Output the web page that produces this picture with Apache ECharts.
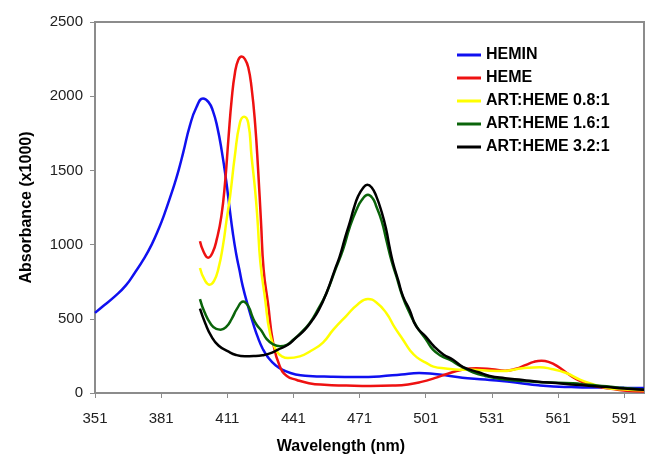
<!DOCTYPE html>
<html>
<head>
<meta charset="utf-8">
<script src="https://cdn.jsdelivr.net/npm/echarts@6/dist/echarts.min.js"></script>
<style>
html,body{margin:0;padding:0;background:#fff;}
#chart{width:646px;height:455px;}
</style>
</head>
<body>
<div id="chart"></div>
<script>
// Series names
var seriesNames = ['HEMIN', 'HEME', 'ART:HEME 0.8:1', 'ART:HEME 1.6:1', 'ART:HEME 3.2:1'];

// HEMIN
var heminWl = [351,355,360,365,369,373,376.7,380,382.7,385,387.2,389,391,394,397,400,402.5,404.5,406.5,408.5,410.5,412,413.5,415,416.5,418,420.5,423,425,427,429.5,433,437,442,448,458,470,480,490,498,505,512,520,530,538,545,552,559,567,575,583,591,600];
var heminAbs = [540,590,651,725,809,900,1000,1110,1215,1315,1415,1505,1620,1800,1925,1985,1960,1900,1790,1630,1430,1250,1080,940,830,720,580,455,370,300,240,185,150,125,115,110,108,112,125,135,128,115,100,88,78,64,52,44,40,37,36,35,34];

// HEME
var hemeWl = [398.6,400.3,402.3,404.3,406.3,408.3,410,411.5,413,414.5,416,417.5,419,420.5,422,423.6,425,426.3,427.5,429.5,431.8,434.8,438,442.5,448,455,465,476,486,493,499,505,511,517,524,531,537,542,546.5,550,553.5,557,561,565,569.5,574,579,585,592,600];
var hemeAbs = [1022,950,912,945,1040,1190,1420,1710,1980,2160,2245,2268,2250,2195,2060,1819,1500,1150,830,600,337,180,115,88,66,55,50,47,50,58,75,100,130,155,166,160,150,163,190,210,218,208,178,135,92,62,42,28,15,10];

// ART:HEME 0.8:1
var art08Wl = [398.6,400.8,403,405,407,409,410.7,412.3,414.4,416.7,418.6,420.5,422,423.6,424.7,426,428.1,430.4,433.4,436,438.5,443.9,449,454.4,459,465,470,474.8,478.5,483.1,487,490.7,494,497,501,504.5,510,516.4,522.4,530,536,542,547,552.6,558,564.7,570.7,575,582.8,590,600];
var art08Abs = [842,760,730,755,840,990,1168,1330,1594,1819,1862,1819,1594,1370,1168,880,640,400,282,245,236,247,285,340,425,520,595,633,612,539,440,359,285,240,205,178,165,157,157,150,148,160,170,174,162,135,92,68,36,25,18];

// ART:HEME 1.6:1
var art16Wl = [398.6,400.8,403.5,406,408,410.5,413,415.5,418.2,420.5,422.5,424.3,426.5,428.8,431.8,435,438,440.9,444,448.4,452,456,460,463.5,466.6,469.6,472,474.8,477,478.6,481,483.1,485.5,487.7,490.5,493.7,497,501.2,504.3,508,511.8,517,522.4,528,535,545,555,567.7,575,583,591,600];
var art16Abs = [633,540,465,432,427,445,500,570,617,585,510,460,420,365,328,315,325,359,400,472,560,674,830,966,1120,1235,1300,1336,1310,1257,1160,1033,890,786,650,539,445,359,292,250,224,180,140,115,95,80,72,65,55,45,33,22];

// ART:HEME 3.2:1
var art32Wl = [398.6,401,403.8,407,411.4,415,419,423,427,430,434,438.5,442,446.2,449.5,452.5,456,460,462,464.5,466.5,468.5,470.3,472.5,474.5,476.5,478.6,481,483.1,484.5,486.2,488.5,490.7,493.7,496.7,501,505,509,513.4,518,525,530,537,545,552,560,567,575,583,591,600];
var art32Abs = [568,470,381,320,280,256,247,249,255,265,292,325,370,427,490,560,674,840,920,1050,1146,1250,1325,1380,1404,1385,1325,1220,1100,990,876,760,651,560,449,380,310,260,224,175,140,115,100,88,76,67,58,49,40,30,22];

// Axis ticks
var xMin = 351, xMax = 600, xStep = 30;
var yMin = 0, yMax = 2500, yStep = 500;

var colors = ['#1010f0', '#ee1111', '#ffff00', '#0a640a', '#000000'];

function pairs(wl, ab) { return wl.map(function (w, i) { return [w, ab[i]]; }); }
var allData = [
  pairs(heminWl, heminAbs),
  pairs(hemeWl, hemeAbs),
  pairs(art08Wl, art08Abs),
  pairs(art16Wl, art16Abs),
  pairs(art32Wl, art32Abs)
];

var FONT = '"Liberation Sans", Arial, Helvetica, sans-serif';

var chart = echarts.init(document.getElementById('chart'), null, {renderer: 'canvas'});
chart.setOption({
  animation: false,
  backgroundColor: '#ffffff',
  color: colors,
  grid: {
    left: 95, right: 2, top: 22, bottom: 62,
    containLabel: false,
    outerBoundsMode: 'none',
    show: true, borderColor: '#8c8c8c', borderWidth: 2, backgroundColor: 'transparent'
  },
  legend: {
    orient: 'vertical',
    left: 457, top: 47, padding: 0,
    icon: 'rect',
    itemWidth: 24, itemHeight: 3, itemGap: 7,
    data: seriesNames,
    textStyle: {fontFamily: FONT, fontSize: 16, lineHeight: 16, fontWeight: 'bold', color: '#000'}
  },
  xAxis: {
    type: 'value',
    min: xMin, max: xMax, interval: xStep,
    name: 'Wavelength (nm)',
    nameLocation: 'middle',
    nameGap: 46,
    nameTextStyle: {fontFamily: FONT, fontSize: 16, fontWeight: 'bold', color: '#000', padding: [0, 57, 0, 0]},
    axisLine: {show: true, lineStyle: {color: '#8c8c8c', width: 2}},
    axisTick: {show: true, inside: false, length: 5, lineStyle: {color: '#8c8c8c', width: 1}},
    axisLabel: {fontFamily: FONT, fontSize: 15, color: '#222', margin: 18, showMaxLabel: false},
    splitLine: {show: false}
  },
  yAxis: {
    type: 'value',
    min: yMin, max: yMax, interval: yStep,
    name: 'Absorbance (x1000)',
    nameLocation: 'middle',
    nameRotate: 90,
    nameGap: 60,
    nameTextStyle: {fontFamily: FONT, fontSize: 16, fontWeight: 'bold', color: '#000'},
    axisLine: {show: true, lineStyle: {color: '#8c8c8c', width: 2}},
    axisTick: {show: true, inside: false, length: 5, lineStyle: {color: '#8c8c8c', width: 1}},
    axisLabel: {fontFamily: FONT, fontSize: 15, color: '#222', margin: 12, formatter: function (v) { return String(v); }},
    splitLine: {show: false}
  },
  series: seriesNames.map(function (n, i) {
    return {
      name: n,
      type: 'line',
      data: allData[i],
      symbol: 'none',
      showSymbol: false,
      smooth: 0.5,
      lineStyle: {width: 2.5, color: colors[i]},
      itemStyle: {color: colors[i]},
      z: 2 + i
    };
  })
});
</script>
</body>
</html>
